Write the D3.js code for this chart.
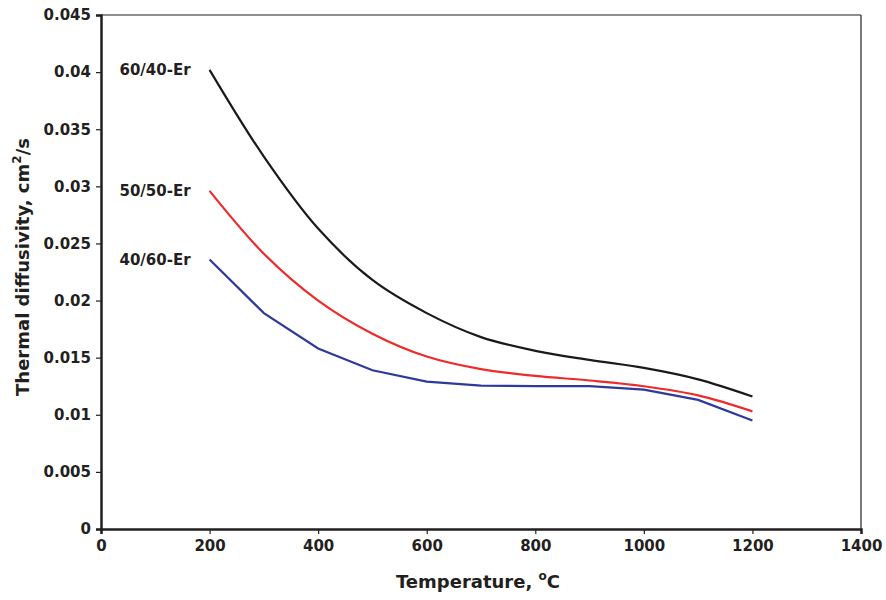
<!DOCTYPE html>
<html>
<head>
<meta charset="utf-8">
<script src="https://cdn.jsdelivr.net/npm/d3@7/dist/d3.min.js"></script>
<style>
  html, body { margin: 0; padding: 0; background: #fff; }
  svg { display: block; }
  text { font-family: "DejaVu Sans", sans-serif; font-weight: bold; fill: #231f20; }
</style>
</head>
<body>
<svg id="chart" width="886" height="600"></svg>
<script>
// Data
const temperatures = [200, 300, 400, 500, 600, 700, 800, 900, 1000, 1100, 1200];
const er6040 = [0.0402, 0.0326, 0.0263, 0.0218, 0.0189, 0.0168, 0.0156, 0.0148, 0.0141, 0.0131, 0.0116];
const er5050 = [0.0296, 0.0241, 0.0200, 0.0171, 0.0151, 0.0140, 0.0134, 0.0130, 0.0125, 0.0117, 0.0103];
const er4060 = [0.0236, 0.0189, 0.0158, 0.0139, 0.0129, 0.01255, 0.0125, 0.0125, 0.0122, 0.0113, 0.0095];
const seriesNames = ["60/40-Er", "50/50-Er", "40/60-Er"];
const xTicks = [0, 200, 400, 600, 800, 1000, 1200, 1400];
const yTicks = [0, 0.005, 0.01, 0.015, 0.02, 0.025, 0.03, 0.035, 0.04, 0.045];
const yTickLabels = ["0", "0.005", "0.01", "0.015", "0.02", "0.025", "0.03", "0.035", "0.04", "0.045"];

const svg = d3.select("#chart");
const mLeft = 101, mRight = 861, mTop = 15, mBottom = 529;

const x = d3.scaleLinear().domain([0, 1400]).range([mLeft, mRight]);
const y = d3.scaleLinear().domain([0, 0.045]).range([mBottom, mTop]);

// frame top/right
svg.append("line").attr("x1", mLeft).attr("x2", mRight).attr("y1", mTop).attr("y2", mTop)
  .attr("stroke", "#231f20").attr("stroke-width", 1.2);
svg.append("line").attr("x1", mRight).attr("x2", mRight).attr("y1", mTop).attr("y2", mBottom)
  .attr("stroke", "#231f20").attr("stroke-width", 1.2);

// axes
const xAxis = d3.axisBottom(x).tickValues(xTicks).tickFormat(d3.format("d")).tickSizeOuter(0).tickSize(5).tickPadding(6);
const gx = svg.append("g").attr("transform", `translate(0,${mBottom})`).call(xAxis);
const yAxis = d3.axisLeft(y).tickValues(yTicks).tickFormat((d, i) => yTickLabels[i]).tickSizeOuter(0).tickSize(5).tickPadding(5);
const gy = svg.append("g").attr("transform", `translate(${mLeft},0)`).call(yAxis);

[gx, gy].forEach(g => {
  g.select(".domain").attr("stroke", "#231f20").attr("stroke-width", 2.5);
  g.selectAll(".tick line").attr("stroke", "#231f20").attr("stroke-width", 1.2);
  g.selectAll(".tick text").style("font-family", "DejaVu Sans, sans-serif")
    .style("font-weight", "bold").style("font-size", "15px").attr("fill", "#231f20");
});

// lines
const colors = ["#1a1a1a", "#ee2a2a", "#2e3a9a"];
const curves = [d3.curveCatmullRom.alpha(0.5), d3.curveCatmullRom.alpha(0.5), d3.curveLinear];
[er6040, er5050, er4060].forEach((vals, i) => {
  const line = d3.line().x((d, j) => x(temperatures[j])).y(d => y(d)).curve(curves[i]);
  svg.append("path").datum(vals).attr("d", line)
    .attr("fill", "none").attr("stroke", colors[i]).attr("stroke-width", 2.2);
});

// series labels
[er6040, er5050, er4060].forEach((vals, i) => {
  svg.append("text").attr("x", x(temperatures[0]) - 19).attr("y", y(vals[0]))
    .attr("dy", "0.35em").attr("text-anchor", "end").style("font-size", "15px")
    .text(seriesNames[i]);
});

// axis titles
const xt = svg.append("text").attr("x", (mLeft + mRight) / 2 - 3).attr("y", 588)
  .attr("text-anchor", "middle").style("font-size", "18px");
xt.append("tspan").text("Temperature, ");
xt.append("tspan").attr("dy", -8).style("font-size", "12px").text("o");
xt.append("tspan").attr("dy", 8).text("C");

const yt = svg.append("text").attr("transform", "translate(29,267) rotate(-90)")
  .attr("text-anchor", "middle").style("font-size", "18px");
yt.append("tspan").text("Thermal diffusivity, cm");
yt.append("tspan").attr("dy", -8).style("font-size", "12px").text("2");
yt.append("tspan").attr("dy", 8).text("/s");
</script>
</body>
</html>
